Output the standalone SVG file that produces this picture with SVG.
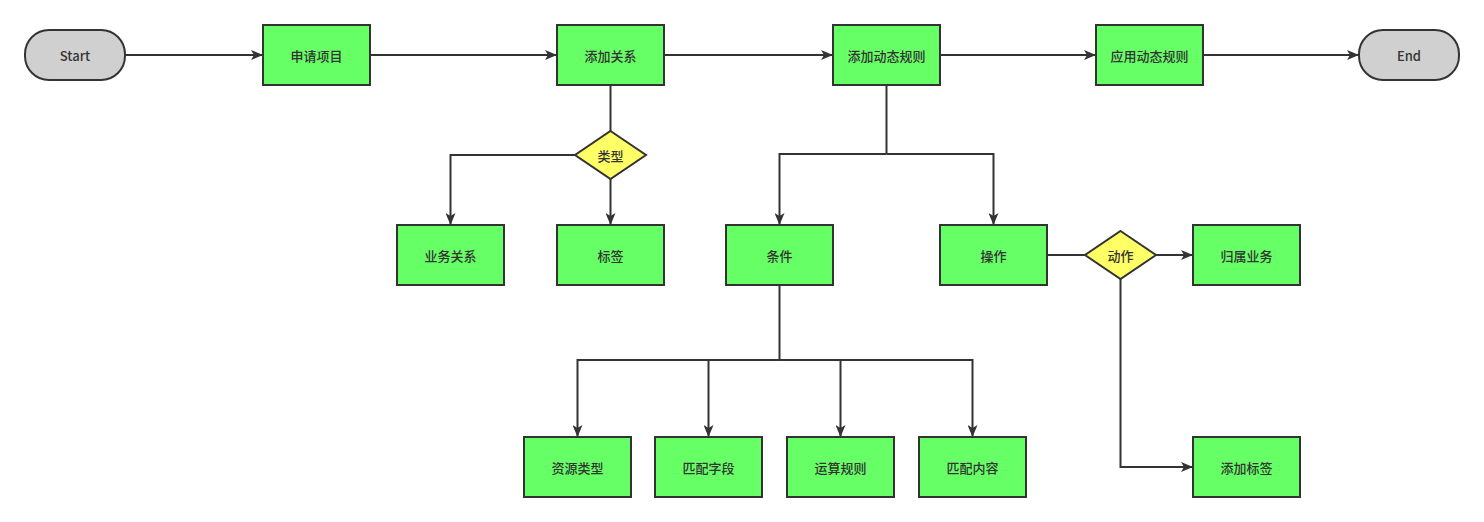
<svg xmlns="http://www.w3.org/2000/svg" width="1484" height="522" viewBox="0 0 1484 522">
<style>
.box{fill:#66ff66;stroke:#333;stroke-width:2}
.term{fill:#d0d0d0;stroke:#333;stroke-width:2}
.dia{fill:#ffff66;stroke:#333;stroke-width:2}
.t{font-family:"Noto Sans CJK SC","Liberation Sans",sans-serif;font-size:13px;fill:#333;text-anchor:middle;dominant-baseline:central;font-weight:500}
.c{fill:none;stroke:#333;stroke-width:2;marker-end:url(#ah)}
.n{fill:none;stroke:#333;stroke-width:2}
</style>
<defs>
<marker id="ah" markerWidth="12" markerHeight="10" refX="11" refY="5" orient="auto" markerUnits="userSpaceOnUse">
<path d="M0,0 L12,5 L0,10 L3,5 Z" fill="#333"/>
</marker>
</defs>
<rect width="1484" height="522" fill="#fff"/>
<g id="connectors">
<path class="c" d="M125,55 H262"/>
<path class="c" d="M370,55 H556"/>
<path class="c" d="M664,55 H832"/>
<path class="c" d="M940,55 H1095"/>
<path class="c" d="M1203,55 H1358"/>
<path class="n" d="M610.5,85 V131"/>
<path class="c" d="M575,155 H450.5 V224"/>
<path class="c" d="M610.5,179 V224"/>
<path class="n" d="M886.5,85 V154"/>
<path class="c" d="M886.5,154 H779.5 V224"/>
<path class="c" d="M886.5,154 H993.5 V224"/>
<path class="n" d="M1047,255 H1085"/>
<path class="c" d="M1156,255 H1192"/>
<path class="c" d="M1120.5,279 V467 H1192"/>
<path class="n" d="M779.5,285 V360"/>
<path class="c" d="M779.5,360 H577.5 V436"/>
<path class="c" d="M779.5,360 H708.5 V436"/>
<path class="c" d="M779.5,360 H840.5 V436"/>
<path class="c" d="M779.5,360 H972.5 V436"/>
</g>
<g id="start"><rect class="term" x="25" y="30" width="100" height="50" rx="24"/><text class="t" x="75" y="55">Start</text></g>
<g id="n1"><rect class="box" x="263" y="25" width="107" height="60"/><text class="t" x="316.5" y="55">申请项目</text></g>
<g id="n2"><rect class="box" x="557" y="25" width="107" height="60"/><text class="t" x="610.5" y="55">添加关系</text></g>
<g id="n3"><rect class="box" x="833" y="25" width="107" height="60"/><text class="t" x="886.5" y="55">添加动态规则</text></g>
<g id="n4"><rect class="box" x="1096" y="25" width="107" height="60"/><text class="t" x="1149.5" y="55">应用动态规则</text></g>
<g id="end"><rect class="term" x="1359" y="30" width="100" height="50" rx="24"/><text class="t" x="1409" y="55">End</text></g>
<g id="d1"><path class="dia" d="M610.5,131 L646,155 L610.5,179 L575,155 Z"/><text class="t" x="610.5" y="155">类型</text></g>
<g id="n5"><rect class="box" x="397" y="225" width="107" height="60"/><text class="t" x="450.5" y="255">业务关系</text></g>
<g id="n6"><rect class="box" x="557" y="225" width="107" height="60"/><text class="t" x="610.5" y="255">标签</text></g>
<g id="n7"><rect class="box" x="726" y="225" width="107" height="60"/><text class="t" x="779.5" y="255">条件</text></g>
<g id="n8"><rect class="box" x="940" y="225" width="107" height="60"/><text class="t" x="993.5" y="255">操作</text></g>
<g id="d2"><path class="dia" d="M1120.5,231 L1156,255 L1120.5,279 L1085,255 Z"/><text class="t" x="1120.5" y="255">动作</text></g>
<g id="n9"><rect class="box" x="1193" y="225" width="107" height="60"/><text class="t" x="1246.5" y="255">归属业务</text></g>
<g id="n10"><rect class="box" x="1193" y="437" width="107" height="60"/><text class="t" x="1246.5" y="467">添加标签</text></g>
<g id="n11"><rect class="box" x="524" y="437" width="107" height="60"/><text class="t" x="577.5" y="467">资源类型</text></g>
<g id="n12"><rect class="box" x="655" y="437" width="107" height="60"/><text class="t" x="708.5" y="467">匹配字段</text></g>
<g id="n13"><rect class="box" x="787" y="437" width="107" height="60"/><text class="t" x="840.5" y="467">运算规则</text></g>
<g id="n14"><rect class="box" x="919" y="437" width="107" height="60"/><text class="t" x="972.5" y="467">匹配内容</text></g>
</svg>
